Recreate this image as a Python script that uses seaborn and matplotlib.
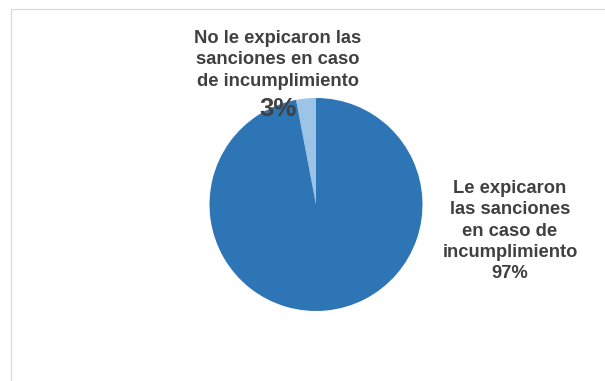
import matplotlib
matplotlib.use("Agg")
import matplotlib.pyplot as plt
import seaborn as sns
from matplotlib.lines import Line2D

categories = ["No le expicaron las\nsanciones en caso\nde incumplimiento",
              "Le expicaron\nlas sanciones\nen caso de\nincumplimiento"]
values = [3, 97]
pct_labels = ["3%", "97%"]
colors = ["#9DC3E6", "#2E75B6"]

sns.set_theme(style="white")
plt.rcParams['font.family'] = ['Liberation Sans', 'DejaVu Sans']

W, H = 605, 381
fig = plt.figure(figsize=(W / 100, H / 100), dpi=100)
fig.patch.set_facecolor("white")

# pie axes placed in pixel coordinates
cx, cy, r = 316, 204.5, 106.5
ax = fig.add_axes([(cx - r) / W, (H - cy - r) / H, 2 * r / W, 2 * r / H])
ax.pie(values, colors=colors, startangle=90, counterclock=True,
       radius=1, wedgeprops=dict(linewidth=0))
ax.set_xlim(-1, 1)
ax.set_ylim(-1, 1)
ax.set_aspect("equal")
ax.axis("off")

txt_color = "#404040"
fs = 13.2
fs_big = 18.5


def put(x, y, s, size):
    fig.text(x / W, 1 - y / H, s, ha="center", va="baseline",
             fontsize=size, fontweight="bold", color=txt_color)


# left label
lines = categories[0].split("\n")
for i, ln in enumerate(lines):
    put(278, 43 + 21.5 * i, ln, fs)
put(278, 116, pct_labels[0], fs_big)

# right label
lines = categories[1].split("\n")
for i, ln in enumerate(lines):
    put(510, 193.3 + 21.2 * i, ln, fs)
put(510, 278, pct_labels[1], fs)

# chart-area frame (partially visible)
fc = "#D9D9D9"
fig.add_artist(Line2D([10.5 / W, 10.5 / W], [0, 1 - 8.5 / H],
                      transform=fig.transFigure, color=fc, lw=0.9))
fig.add_artist(Line2D([10.5 / W, 1], [1 - 8.5 / H, 1 - 8.5 / H],
                      transform=fig.transFigure, color=fc, lw=0.9))

fig.savefig("out.png", dpi=100)
